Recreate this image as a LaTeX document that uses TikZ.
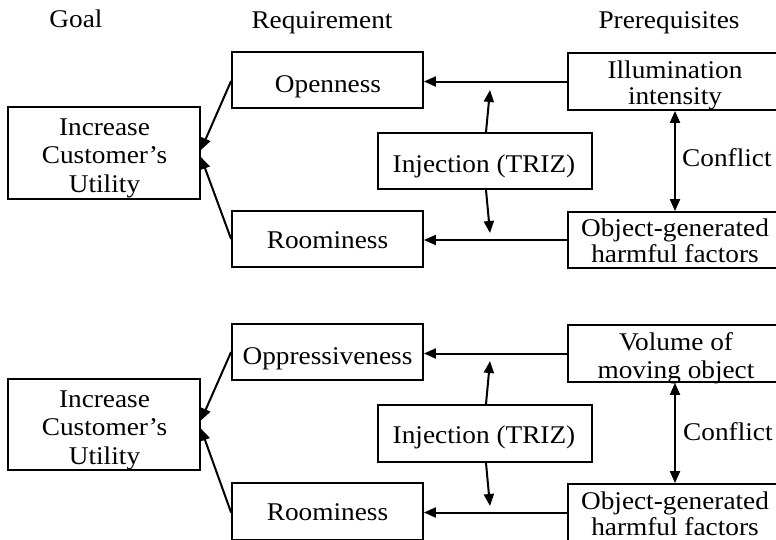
\documentclass[tikz,border=0pt]{standalone}
\usepackage{fontspec}
\setmainfont{Liberation Serif}[FakeStretch=1.07]
\usetikzlibrary{arrows.meta}

% stacked, centred lines whose base anchor is the first baseline
\newcommand\txtlines[2][28.5]{{\fontsize{25.5}{#1}\selectfont\begin{tabular}[t]{@{}c@{}}#2\end{tabular}}}

\begin{document}
\begin{tikzpicture}[x=1pt,y=-1pt,
  every node/.style={font=\fontsize{25.5}{28.5}\selectfont},
  box/.style={draw, line width=1.8pt, inner sep=0pt, minimum height=56pt},
  req/.style={box, minimum width=191pt},
  pre/.style={box, minimum width=222pt},
  inj/.style={box, minimum width=214pt},
  goalbox/.style={box, minimum width=192pt, minimum height=92pt},
  lbl/.style={anchor=base, inner sep=0pt},
  hd/.tip={Triangle[length=12pt,width=10pt]},
  arr/.style={line width=2pt, -hd},
  dbl/.style={line width=2pt, hd-hd}
]
\useasboundingbox (0,0) rectangle (776,539);
\clip (0,0) rectangle (776,539);

% column headings
\node[lbl] (hgoal) at (76,27) {Goal};
\node[lbl] (hreq) at (322,28.5) {Requirement};
\node[lbl] (hpre) at (669,28) {Prerequisites};

% ---------- upper chart ----------
\node[goalbox] (goal1) at (104,153) {};
\node[req] (open1) at (327.5,80) {};
\node[req] (room1) at (327.5,239) {};
\node[inj] (inj1) at (485,161) {};
\node[pre, minimum height=57pt] (illum1) at (679,81.5) {};
\node[pre] (obj1) at (679,240) {};

\node[lbl] (goal1t) at (104.5,135) {\txtlines{Increase\\Customer’s\\Utility}};
\node[lbl] (open1t) at (328,92) {Openness};
\node[lbl] (room1t) at (327.5,248.5) {Roominess};
\node[lbl] (inj1t) at (484,172) {Injection (TRIZ)};
\node[lbl] (illum1t) at (675,78) {\txtlines[26]{Illumination\\intensity}};
\node[lbl] (obj1t) at (675,236.7) {\txtlines[26]{Object-generated\\harmful factors}};
\node[lbl, anchor=base west] (conf1) at (682,166.7) {Conflict};

\coordinate (t1u) at (490,90);
\coordinate (t1d) at (490,233);

\draw[arr] (illum1.west) -- (illum1.west -| open1.east);
\draw[arr] (obj1.west) -- (obj1.west -| room1.east);
\draw[arr] ([yshift=-1pt]open1.west) -- ([yshift=3pt]goal1.east);
\draw[arr] (room1.west) -- ([yshift=-4pt]goal1.east);
\draw[arr] ([xshift=1pt]inj1.north) -- (t1u);
\draw[arr] ([xshift=1pt]inj1.south) -- (t1d);
\draw[dbl] ([xshift=-4pt]illum1.south) -- ([xshift=-4pt]obj1.north);

% ---------- lower chart ----------
\node[goalbox, minimum height=91pt] (goal2) at (104,424.5) {};
\node[req] (opp2) at (327.5,352) {};
\node[req, minimum height=57pt] (room2) at (327.5,511.5) {};
\node[inj, minimum height=57pt] (inj2) at (485,433.5) {};
\node[pre, minimum height=57pt] (vol2) at (679,353.5) {};
\node[pre, minimum height=57pt] (obj2) at (679,512.5) {};

\node[lbl] (goal2t) at (104.5,407) {\txtlines{Increase\\Customer’s\\Utility}};
\node[lbl] (opp2t) at (327.5,364) {Oppressiveness};
\node[lbl] (room2t) at (327.5,520.7) {Roominess};
\node[lbl] (inj2t) at (484,443.5) {Injection (TRIZ)};
\node[lbl] (vol2t) at (676,350) {\txtlines[28]{Volume of\\moving object}};
\node[lbl] (obj2t) at (675,509) {\txtlines[26]{Object-generated\\harmful factors}};
\node[lbl, anchor=base west] (conf2) at (683,440) {Conflict};

\coordinate (t2u) at (490,361);
\coordinate (t2d) at (490,506);

\draw[arr] (vol2.west) -- (vol2.west -| opp2.east);
\draw[arr] (obj2.west) -- (obj2.west -| room2.east);
\draw[arr] (opp2.west) -- ([yshift=4pt]goal2.east);
\draw[arr] ([yshift=-1pt]room2.west) -- ([yshift=-4pt]goal2.east);
\draw[arr] ([xshift=1pt]inj2.north) -- (t2u);
\draw[arr] ([xshift=1pt]inj2.south) -- (t2d);
\draw[dbl] ([xshift=-4pt]vol2.south) -- ([xshift=-4pt]obj2.north);
\end{tikzpicture}
\end{document}
